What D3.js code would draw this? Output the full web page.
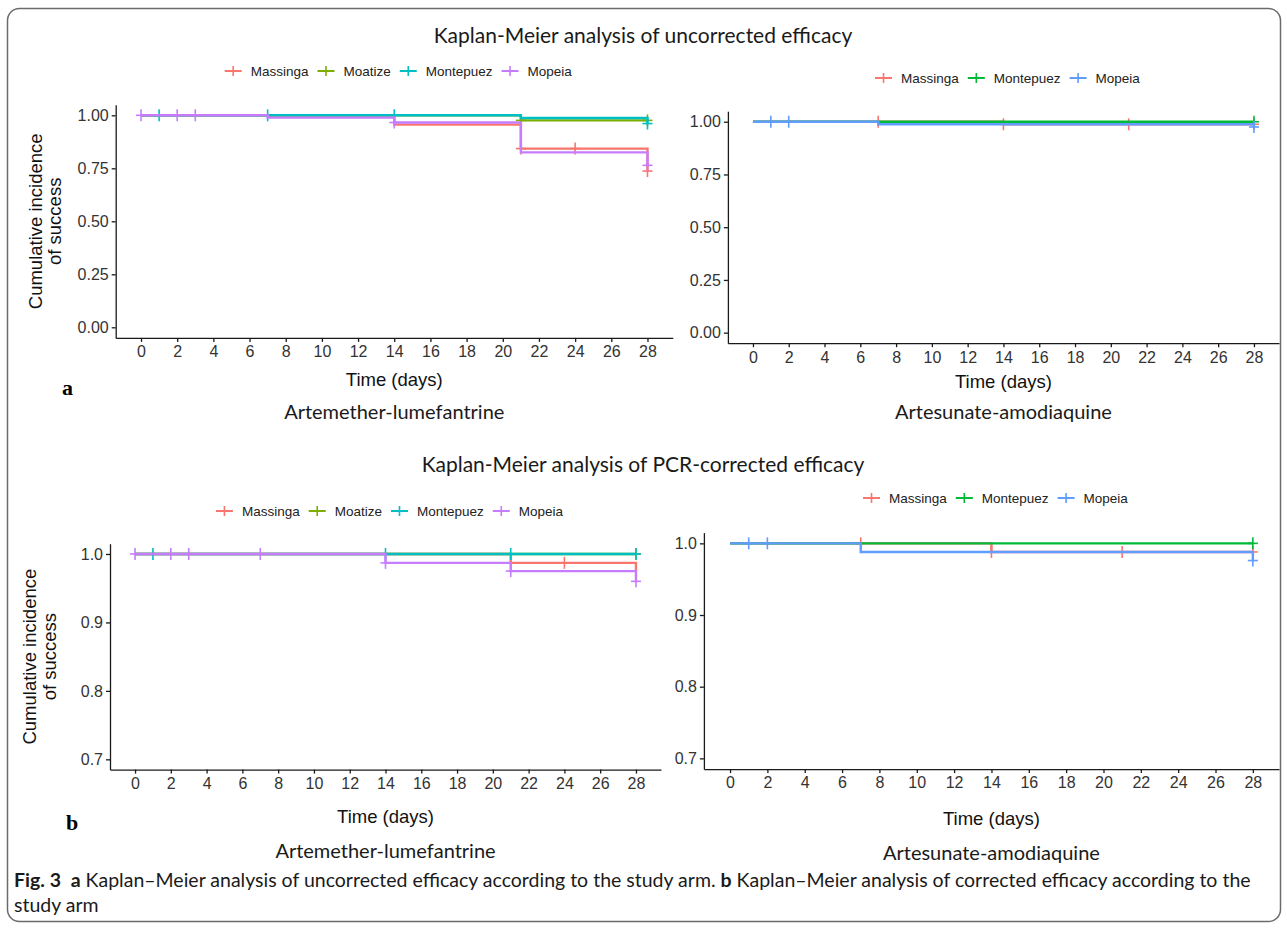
<!DOCTYPE html>
<html>
<head>
<meta charset="utf-8">
<script src="https://cdn.jsdelivr.net/npm/d3@7/dist/d3.min.js"></script>
<style>
  body { margin: 0; background: #fff; }
  svg { display: block; font-family: "Liberation Sans", Arial, sans-serif; }
  .axis path, .axis line { stroke: #1a1a1a; stroke-width: 1.3; }
  .axis text { fill: #333; font-size: 16px; font-family: "Liberation Sans", Arial, sans-serif; }
  .calibri { font-family: Lato, "Open Sans", sans-serif; fill: #1a1a1a; }
</style>
</head>
<body>
<svg id="fig" width="1287" height="929"></svg>
<script>
// ---- data ----
const sitesAL = ["Massinga", "Moatize", "Montepuez", "Mopeia"];
const colorsAL = ["#F8766D", "#7CAE00", "#00BFC4", "#C77CFF"];
const sitesASAQ = ["Massinga", "Montepuez", "Mopeia"];
const colorsASAQ = ["#F8766D", "#00BA38", "#619CFF"];

const dayTicks = [0, 2, 4, 6, 8, 10, 12, 14, 16, 18, 20, 22, 24, 26, 28];
const yTicksFull = [0, 0.25, 0.5, 0.75, 1];
const yTicksZoom = [0.7, 0.8, 0.9, 1];

// [day, survival] steps, one list per site (same order as the site arrays)
const alUncorrSteps = [
  [[0, 1], [14, 0.956], [21, 0.843], [28, 0.737]],
  [[0, 1], [21, 0.976], [28, 0.976]],
  [[0, 1], [21, 0.987], [28, 0.961]],
  [[0, 1], [7, 0.989], [14, 0.966], [21, 0.825], [28, 0.764]]
];
const alUncorrCensor = [[21, 24, 28], [21, 28], [1, 7, 14, 28], [0, 2, 3, 14, 28]];

const asaqUncorrSteps = [
  [[0, 1], [14, 0.988], [28, 0.988]],
  [[0, 1], [28, 1]],
  [[0, 1], [7, 0.988], [28, 0.975]]
];
const asaqUncorrCensor = [[7, 14, 21, 28], [28], [1, 2, 28]];

const alCorrSteps = [
  [[0, 1], [21, 0.987], [28, 0.975]],
  [[0, 1], [28, 1]],
  [[0, 1], [28, 1]],
  [[0, 1], [14, 0.987], [21, 0.975], [28, 0.96]]
];
const alCorrCensor = [[21, 24], [28], [1, 14, 21, 28], [0, 2, 3, 7, 14, 21, 28]];

const asaqCorrSteps = [
  [[0, 1], [14, 0.988], [28, 0.988]],
  [[0, 1], [28, 1]],
  [[0, 1], [7, 0.988], [28, 0.976]]
];
const asaqCorrCensor = [[7, 14, 21, 28], [28], [1, 2, 28]];

// ---- drawing ----
const svg = d3.select("#fig");

svg.append("rect")
  .attr("x", 7.5).attr("y", 8.5)
  .attr("width", 1273).attr("height", 913)
  .attr("rx", 12)
  .attr("fill", "none")
  .attr("stroke", "#6b6b6b")
  .attr("stroke-width", 1.5);

function survAt(steps, t) {
  let v = steps[0][1];
  steps.forEach(s => { if (s[0] <= t) v = s[1]; });
  return v;
}

function drawPanel(p) {
  const x = d3.scaleLinear().domain([-1.4, 29.4]).range([p.left, p.right]);
  const y = d3.scaleLinear().domain(p.yDomain).range([p.bottom, p.top]);
  const g = svg.append("g");

  g.append("g")
    .attr("class", "axis")
    .attr("transform", `translate(0,${p.bottom})`)
    .call(d3.axisBottom(x).tickValues(dayTicks).tickSize(4).tickSizeOuter(0).tickPadding(4));

  g.append("g")
    .attr("class", "axis")
    .attr("transform", `translate(${p.left},0)`)
    .call(d3.axisLeft(y).tickValues(p.yTicks).tickFormat(d3.format(p.fmt))
      .tickSize(4).tickSizeOuter(0).tickPadding(3));

  const line = d3.line()
    .x(d => x(d[0]))
    .y(d => y(d[1]))
    .curve(d3.curveStepAfter);

  p.steps.forEach((st, i) => {
    g.append("path")
      .datum(st)
      .attr("d", line)
      .attr("fill", "none")
      .attr("stroke", p.colors[i])
      .attr("stroke-width", 2.4);

    const marks = g.append("g").attr("stroke", p.colors[i]).attr("stroke-width", 1.6);
    p.censor[i].forEach(t => {
      const cx = x(t), cy = y(survAt(st, t));
      marks.append("line").attr("x1", cx - 5).attr("x2", cx + 5).attr("y1", cy).attr("y2", cy);
      marks.append("line").attr("x1", cx).attr("x2", cx).attr("y1", cy - 6).attr("y2", cy + 6);
    });
  });

  // legend, centred over the plot
  const lg = g.append("g");
  let cursor = 0;
  const items = [];
  p.sites.forEach((s, i) => {
    const it = lg.append("g");
    it.append("line").attr("x1", 0).attr("x2", 17).attr("y1", 0).attr("y2", 0)
      .attr("stroke", p.colors[i]).attr("stroke-width", 2);
    it.append("line").attr("x1", 8.5).attr("x2", 8.5).attr("y1", -5).attr("y2", 5)
      .attr("stroke", p.colors[i]).attr("stroke-width", 1.6);
    const tx = it.append("text").attr("x", 26).attr("dy", "0.35em")
      .style("font-size", "13.5px").attr("fill", "#222").text(s);
    const w = 26 + tx.node().getComputedTextLength();
    items.push({ it, at: cursor });
    cursor += w + 9;
  });
  const total = cursor - 9;
  const cx = (x(0) + x(28)) / 2 + 4;
  items.forEach(d => d.it.attr("transform", `translate(${cx - total / 2 + d.at},${p.legendY})`));

  // axis title and drug name
  g.append("text")
    .attr("x", (x(0) + x(28)) / 2).attr("y", p.bottom + p.titleGap)
    .attr("text-anchor", "middle").attr("dy", "0.35em")
    .style("font-size", "18.5px").attr("fill", "#111")
    .text("Time (days)");

  g.append("text")
    .attr("class", "calibri")
    .attr("x", (x(0) + x(28)) / 2).attr("y", p.drugY)
    .attr("text-anchor", "middle").attr("dy", "0.35em")
    .style("font-size", "20px")
    .text(p.drug);

  if (p.yTitle) {
    const yt = g.append("text")
      .attr("transform", `translate(${p.left - 70},${(p.top + p.bottom) / 2}) rotate(-90)`)
      .attr("text-anchor", "middle")
      .style("font-size", "18.5px").attr("fill", "#111");
    yt.append("tspan").attr("x", 0).attr("dy", "-0.2em").text("Cumulative incidence");
    yt.append("tspan").attr("x", 0).attr("dy", "1.05em").text("of success");
  }
}

svg.append("text").attr("class", "calibri")
  .attr("x", 643).attr("y", 36).attr("dy", "0.35em").attr("text-anchor", "middle")
  .style("font-size", "21px").text("Kaplan-Meier analysis of uncorrected efficacy");

svg.append("text").attr("class", "calibri")
  .attr("x", 643).attr("y", 465).attr("dy", "0.35em").attr("text-anchor", "middle")
  .style("font-size", "21px").text("Kaplan-Meier analysis of PCR-corrected efficacy");

drawPanel({
  left: 115.7, right: 672.8, top: 104.7, bottom: 337.9, yDomain: [-0.05, 1.05],
  yTicks: yTicksFull, fmt: ".2f", sites: sitesAL, colors: colorsAL,
  steps: alUncorrSteps, censor: alUncorrCensor, legendY: 71, titleGap: 42, drugY: 412,
  drug: "Artemether-lumefantrine", yTitle: true
});
drawPanel({
  left: 727.9, right: 1279, top: 111.2, bottom: 343.2, yDomain: [-0.05, 1.05],
  yTicks: yTicksFull, fmt: ".2f", sites: sitesASAQ, colors: colorsASAQ,
  steps: asaqUncorrSteps, censor: asaqUncorrCensor, legendY: 78, titleGap: 38, drugY: 412,
  drug: "Artesunate-amodiaquine", yTitle: false
});
drawPanel({
  left: 110, right: 661, top: 543.7, bottom: 769.6, yDomain: [0.685, 1.015],
  yTicks: yTicksZoom, fmt: ".1f", sites: sitesAL, colors: colorsAL,
  steps: alCorrSteps, censor: alCorrCensor, legendY: 511, titleGap: 47, drugY: 851,
  drug: "Artemether-lumefantrine", yTitle: true
});
drawPanel({
  left: 703.9, right: 1279, top: 532.6, bottom: 769.1, yDomain: [0.685, 1.015],
  yTicks: yTicksZoom, fmt: ".1f", sites: sitesASAQ, colors: colorsASAQ,
  steps: asaqCorrSteps, censor: asaqCorrCensor, legendY: 498, titleGap: 49, drugY: 853,
  drug: "Artesunate-amodiaquine", yTitle: false
});

// panel letters
svg.append("text").attr("x", 62).attr("y", 395)
  .style("font-family", "'Liberation Serif', 'DejaVu Serif', serif")
  .style("font-weight", "bold").style("font-size", "22px").text("a");
svg.append("text").attr("x", 66).attr("y", 830)
  .style("font-family", "'Liberation Serif', 'DejaVu Serif', serif")
  .style("font-weight", "bold").style("font-size", "22px").text("b");

// figure caption
const cap = svg.append("text").attr("class", "calibri").style("font-size", "19.5px");
const l1 = cap.append("tspan").attr("x", 14).attr("y", 887);
l1.append("tspan").style("font-weight", "bold").text("Fig. 3");
l1.append("tspan").text("\u2002");
l1.append("tspan").style("font-weight", "bold").text("a");
l1.append("tspan").text(" Kaplan\u2013Meier analysis of uncorrected efficacy according to the study arm. ");
l1.append("tspan").style("font-weight", "bold").text("b");
l1.append("tspan").text(" Kaplan\u2013Meier analysis of corrected efficacy according to the");
cap.append("tspan").attr("x", 14).attr("y", 912).text("study arm");
</script>
</body>
</html>
